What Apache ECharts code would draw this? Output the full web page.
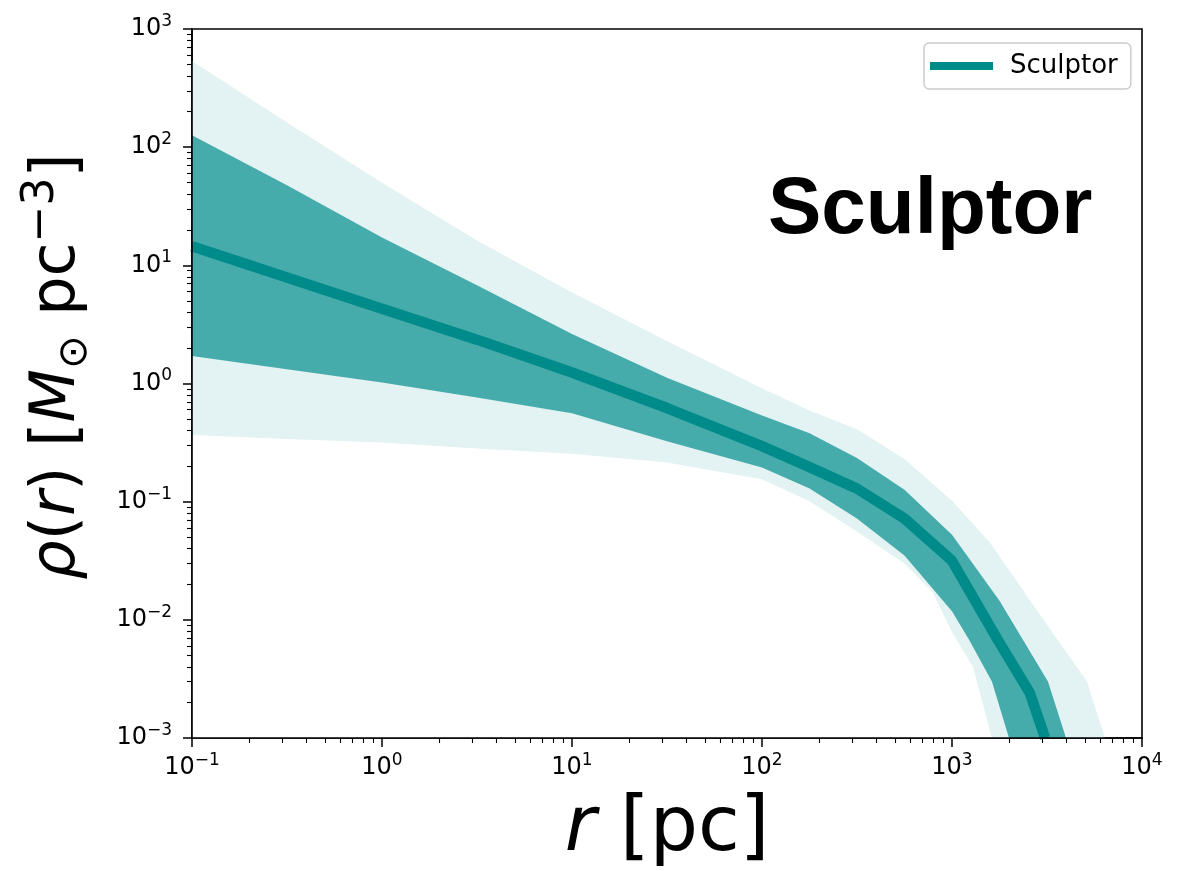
<!DOCTYPE html>
<html>
<head>
<meta charset="utf-8">
<script src="https://cdn.jsdelivr.net/npm/echarts@6/dist/echarts.min.js"></script>
<style>
html, body { margin: 0; padding: 0; background: #fff; }
#chart { width: 1195px; height: 871px; }
</style>
</head>
<body>
<div id="chart"></div>
<script>
// density profile of Sculptor
var rUpper95 = [0.1, 0.316, 1, 3.16, 10, 31.6, 100, 178, 316, 562, 1000, 1585, 3162, 5129, 6383];
var rhoUpper95 = [537, 162, 50, 16.2, 5.9, 2.29, 0.91, 0.59, 0.41, 0.23, 0.102, 0.045, 0.0091, 0.0030, 0.001];

var rUpper68 = [0.1, 0.316, 1, 3.16, 10, 31.6, 100, 178, 316, 562, 1000, 1778, 3199, 3981];
var rhoUpper68 = [126, 47.5, 17.2, 6.8, 2.63, 1.12, 0.537, 0.38, 0.234, 0.126, 0.0525, 0.0145, 0.0030, 0.001];

var rMedian = [0.1, 0.316, 1, 3.16, 10, 31.6, 100, 178, 316, 562, 1000, 1738, 2570, 3090];
var rhoMedian = [14.5, 7.9, 4.3, 2.35, 1.24, 0.62, 0.295, 0.196, 0.129, 0.072, 0.0316, 0.0068, 0.0024, 0.001];

var rLower68 = [0.1, 0.316, 1, 3.16, 10, 31.6, 100, 178, 316, 562, 1000, 1230, 1622, 1995];
var rhoLower68 = [1.71, 1.32, 1.02, 0.76, 0.56, 0.324, 0.195, 0.129, 0.072, 0.035, 0.0118, 0.0068, 0.003, 0.001];

var rLower95 = [0.1, 0.316, 1, 3.16, 10, 31.6, 100, 178, 316, 562, 794, 1000, 1288, 1622];
var rhoLower95 = [0.367, 0.339, 0.316, 0.282, 0.254, 0.214, 0.155, 0.101, 0.056, 0.030, 0.017, 0.0079, 0.004, 0.001];

var xMajor = [0.1, 1, 10, 100, 1000, 10000];
var yMajor = [0.001, 0.01, 0.1, 1, 10, 100, 1000];

var teal = '#008b8b';
var tealDark = '#46abab';
var tealLight = '#e3f2f2';

var pairs = function(xs, ys) {
    var out = [];
    for (var i = 0; i < xs.length; ++i) {
        out.push([xs[i], ys[i]]);
    }
    return out;
};

var minorTicks = function(lo, hi) {
    var out = [];
    for (var p = lo; p < hi; ++p) {
        for (var k = 2; k < 10; ++k) {
            out.push(k * Math.pow(10, p));
        }
    }
    return out;
};

var powLabel = function(v) {
    var e = Math.round(Math.log10(v));
    return '{b|10}{s|' + String(e).replace('-', '\u2212') + '}';
};

var labelRich = {
    b: { fontSize: 24, lineHeight: 32, fontFamily: 'DejaVu Sans', color: '#000' },
    s: { fontSize: 17, lineHeight: 17, verticalAlign: 'top', fontFamily: 'DejaVu Sans', color: '#000' }
};

var band = function(name, xs, ys, color) {
    return {
        name: name,
        type: 'line',
        data: pairs(xs, ys),
        symbol: 'none',
        silent: true,
        lineStyle: { width: 0, opacity: 0 },
        areaStyle: { color: color, opacity: 1, origin: 'start' }
    };
};

var echart = echarts.init(document.getElementById('chart'), null, { renderer: 'canvas' });

var option = {
    backgroundColor: '#fff',
    animation: false,
    grid: {
        left: 192, top: 29, width: 950, height: 709,
        outerBoundsMode: 'none',
        show: true, borderColor: '#000', borderWidth: 1.6, backgroundColor: 'transparent'
    },
    title: {
        text: 'Sculptor',
        left: 763, top: 166,
        textStyle: { fontSize: 80, lineHeight: 80, fontWeight: 'bold', fontFamily: 'Liberation Sans', color: '#000' }
    },
    legend: {
        data: [{ name: 'Sculptor', icon: 'rect' }],
        left: 924, top: 43,
        itemWidth: 63, itemHeight: 8,
        padding: [8, 13, 8, 6],
        backgroundColor: '#fff',
        borderColor: '#cccccc', borderWidth: 1.5, borderRadius: 5,
        textStyle: { fontSize: 26, lineHeight: 30, fontFamily: 'DejaVu Sans', color: '#000', padding: [0, 0, 0, 12] }
    },
    xAxis: [{
        type: 'log', logBase: 10, min: 0.1, max: 10000, position: 'bottom', z: 10,
        name: '{i|r} [pc]', nameLocation: 'middle', nameGap: 52,
        nameTextStyle: {
            fontSize: 76, lineHeight: 80, fontFamily: 'DejaVu Sans', color: '#000',
            rich: { i: { fontSize: 76, lineHeight: 80, fontStyle: 'italic', fontFamily: 'DejaVu Sans', color: '#000' } }
        },
        axisLine: { lineStyle: { color: '#000', width: 1.6 } },
        axisTick: { inside: false, length: 9, lineStyle: { color: '#000', width: 1.5 }, customValues: xMajor },
        axisLabel: { margin: 14, formatter: powLabel, rich: labelRich, customValues: xMajor },
        splitLine: { show: false }
    }, {
        type: 'log', logBase: 10, min: 0.1, max: 10000, position: 'bottom', z: 10,
        axisLine: { show: false },
        axisTick: { inside: false, length: 5, lineStyle: { color: '#000', width: 1.1 }, customValues: minorTicks(-1, 4) },
        axisLabel: { show: false },
        splitLine: { show: false }
    }],
    yAxis: [{
        type: 'log', logBase: 10, min: 0.001, max: 1000, position: 'left', z: 10,
        name: '{i|\u03c1}({i|r}) [{i|M}{sub|\u2299} pc{sup|\u22123}]',
        nameLocation: 'middle', nameRotate: 90, nameGap: 96,
        nameTextStyle: {
            fontSize: 62, lineHeight: 76, fontFamily: 'DejaVu Sans', color: '#000',
            padding: [0, 0, 0, 34],
            rich: {
                i: { fontSize: 62, lineHeight: 76, fontStyle: 'italic', fontFamily: 'DejaVu Sans', color: '#000' },
                sub: { fontSize: 40, lineHeight: 46, verticalAlign: 'bottom', fontFamily: 'DejaVu Sans', color: '#000' },
                sup: { fontSize: 44, lineHeight: 44, verticalAlign: 'top', fontFamily: 'DejaVu Sans', color: '#000' }
            }
        },
        axisLine: { lineStyle: { color: '#000', width: 1.6 } },
        axisTick: { inside: false, length: 9, lineStyle: { color: '#000', width: 1.5 }, customValues: yMajor },
        axisLabel: { margin: 20, formatter: powLabel, rich: labelRich, customValues: yMajor },
        splitLine: { show: false }
    }, {
        type: 'log', logBase: 10, min: 0.001, max: 1000, position: 'left', z: 10,
        axisLine: { show: false },
        axisTick: { inside: false, length: 5, lineStyle: { color: '#000', width: 1.1 }, customValues: minorTicks(-3, 3) },
        axisLabel: { show: false },
        splitLine: { show: false }
    }],
    series: [
        band('upper95', rUpper95, rhoUpper95, tealLight),
        band('upper68', rUpper68, rhoUpper68, tealDark),
        band('lower68', rLower68, rhoLower68, tealLight),
        band('lower95', rLower95, rhoLower95, '#ffffff'),
        {
            name: 'Sculptor',
            type: 'line',
            data: pairs(rMedian, rhoMedian),
            symbol: 'none',
            color: teal,
            lineStyle: { color: teal, width: 10.5 }
        }
    ]
};

echart.setOption(option);
</script>
</body>
</html>
